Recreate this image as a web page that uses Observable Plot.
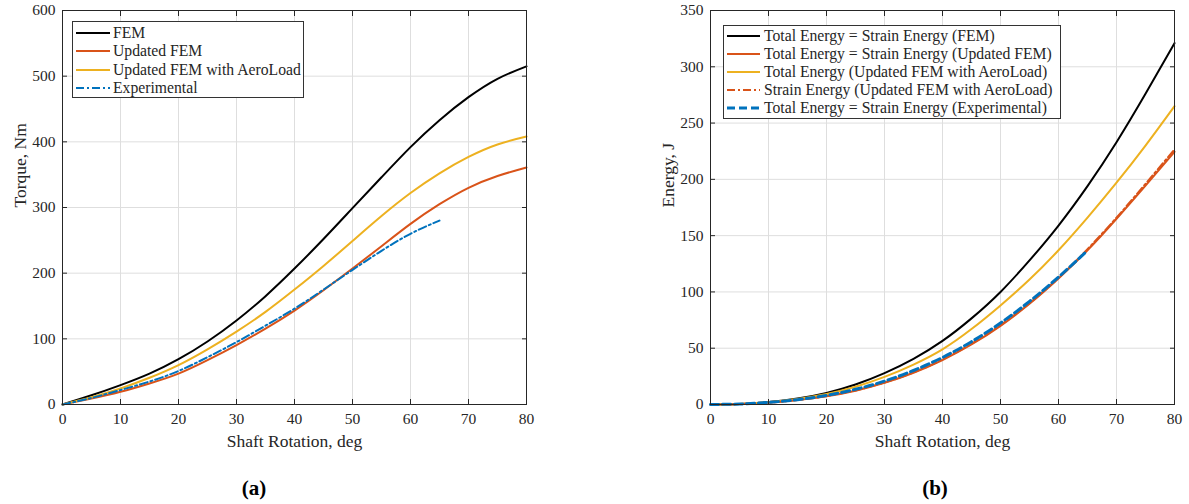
<!DOCTYPE html>
<html>
<head>
<meta charset="utf-8">
<script src="https://cdn.jsdelivr.net/npm/d3@7"></script>
<script src="https://cdn.jsdelivr.net/npm/@observablehq/plot@0.6"></script>
<style>
  html, body { margin: 0; padding: 0; background: white; }
  #wrap { position: relative; width: 1189px; height: 504px; font-family: "Liberation Serif", serif; color: #262626; }
  .panel { position: absolute; top: 0; }
  .legend { position: absolute; background: white; border: 1px solid #333; box-sizing: border-box; }
  .row { position: absolute; left: 0; white-space: nowrap; font-size: 15.7px; line-height: 18px; }
  .row svg { position: absolute; left: 3px; top: 0; }
  .row span { position: absolute; top: 0; }
  .cap { position: absolute; font-weight: bold; font-size: 21px; font-family: "Liberation Serif", serif; color: #000; transform: translate(-50%, -50%); }
</style>
</head>
<body>
<div id="wrap"></div>
<script>
// ---------- data ----------
const deg = [0, 5, 10, 15, 20, 25, 30, 35, 40, 45, 50, 55, 60, 65, 70, 75, 80];
const degExp = [0, 5, 10, 15, 20, 25, 30, 35, 40, 45, 50, 55, 60, 65];

// (a) torque, Nm
const torqueFEM     = [0, 14, 29.5, 47, 69, 96, 128, 165, 207, 252, 299, 346, 392, 433, 468, 496, 515];
const torqueUpdated = [0, 9, 19.3, 32, 47, 67.5, 90.5, 115.5, 143, 174, 207, 241, 275, 305, 330, 348, 361];
const torqueAero    = [0, 11, 24.4, 40.7, 60, 84, 111, 141, 175, 211, 249, 287, 322, 352, 377, 396, 408];
const torqueExp     = [0, 10, 22, 35, 51, 72, 95, 120, 146, 175, 205, 234, 260, 280];

// (b) energy, J
const energyFEM        = [0, 0.5, 2.2, 5.3, 10.3, 17.8, 27.9, 40.6, 56.5, 76.5, 100, 128, 159, 194, 233, 276, 321];
const energyUpdated    = [0, 0.4, 1.6, 3.9, 7.3, 12.3, 19.2, 28.2, 39.5, 53.3, 69.9, 89.5, 112, 137, 165, 194.5, 224.5];
const energyAeroTotal  = [0, 0.5, 2, 4.9, 9.3, 15.8, 24.5, 35.5, 49, 67, 88, 111, 137, 166, 197, 230, 265];
const energyAeroStrain = [0, 0.4, 1.7, 4, 7.5, 12.5, 19.5, 28.5, 40, 54, 70.5, 90, 112.5, 138, 166, 196, 226.5];
const energyExp        = [0, 0.44, 1.84, 4.3, 8.1, 13.5, 20.8, 30.2, 41.8, 55.8, 72.4, 91.6, 113.2, 136.8];

const seriesA = [
  {name: "FEM", x: deg, y: torqueFEM, color: "#000000", dash: null, width: 2},
  {name: "Updated FEM", x: deg, y: torqueUpdated, color: "#D95319", dash: null, width: 2},
  {name: "Updated FEM with AeroLoad", x: deg, y: torqueAero, color: "#EDB120", dash: null, width: 2},
  {name: "Experimental", x: degExp, y: torqueExp, color: "#0072BD", dash: "8,3,2,3", width: 2}
];
const seriesB = [
  {name: "Total Energy = Strain Energy (FEM)", x: deg, y: energyFEM, color: "#000000", dash: null, width: 2},
  {name: "Total Energy = Strain Energy (Updated FEM)", x: deg, y: energyUpdated, color: "#D95319", dash: null, width: 2},
  {name: "Total Energy (Updated FEM with AeroLoad)", x: deg, y: energyAeroTotal, color: "#EDB120", dash: null, width: 2},
  {name: "Strain Energy (Updated FEM with AeroLoad)", x: deg, y: energyAeroStrain, color: "#D95319", dash: "8,3,2,3", width: 2},
  {name: "Total Energy = Strain Energy (Experimental)", x: degExp, y: energyExp, color: "#0072BD", dash: "8,4", width: 3}
];

const xTicks = [0, 10, 20, 30, 40, 50, 60, 70, 80];
const yTicksA = [0, 100, 200, 300, 400, 500, 600];
const yTicksB = [0, 50, 100, 150, 200, 250, 300, 350];

function rowsOf(s) { return s.x.map((d, i) => ({deg: d, v: s.y[i]})); }

function makePlot(series, yDomain, yTicks, yLabel, opts) {
  const lineMarks = series.map(s => Plot.line(rowsOf(s), {
    x: "deg", y: "v", stroke: s.color, strokeWidth: s.width,
    strokeDasharray: s.dash || undefined, curve: "natural"
  }));
  return Plot.plot({
    width: opts.width, height: 460,
    marginLeft: opts.ml, marginRight: opts.mr, marginTop: 10, marginBottom: 56,
    style: {fontFamily: "Liberation Serif", fontSize: "15.5px", color: "#262626", background: "white", overflow: "visible"},
    x: {domain: [0, 80]},
    y: {domain: yDomain},
    marks: [
      Plot.gridX(xTicks, {stroke: "#dedede", strokeOpacity: 1}),
      Plot.gridY(yTicks, {stroke: "#dedede", strokeOpacity: 1}),
      ...lineMarks,
      Plot.frame({stroke: "#262626", strokeWidth: 1}),
      Plot.axisX(xTicks, {anchor: "bottom", tickSize: -5, text: null, label: null, stroke: "#262626"}),
      Plot.axisX(xTicks, {anchor: "top", tickSize: -5, text: null, label: null, stroke: "#262626"}),
      Plot.axisY(yTicks, {anchor: "left", tickSize: -5, text: null, label: null, stroke: "#262626"}),
      Plot.axisY(yTicks, {anchor: "right", tickSize: -5, text: null, label: null, stroke: "#262626"}),
      Plot.axisX(xTicks, {anchor: "bottom", tickSize: 0, tickPadding: 8, label: null, fill: "#262626"}),
      Plot.axisY(yTicks, {anchor: "left", tickSize: 0, tickPadding: 7, label: null, fill: "#262626"}),
      Plot.text(["Shaft Rotation, deg"], {frameAnchor: "bottom", lineAnchor: "middle", dy: 37, fontSize: 17.5, fill: "#262626"}),
      Plot.text([yLabel], {frameAnchor: "left", dx: -42, rotate: -90, fontSize: 17.5, fill: "#262626"})
    ]
  });
}

const wrap = document.getElementById("wrap");

function addPanel(node, left) {
  const d = document.createElement("div");
  d.className = "panel";
  d.style.left = left + "px";
  d.appendChild(node);
  wrap.appendChild(d);
}

addPanel(makePlot(seriesA, [0, 600], yTicksA, "Torque, Nm", {width: 594, ml: 62, mr: 68}), 0);
addPanel(makePlot(seriesB, [0, 350], yTicksB, "Energy, J", {width: 595, ml: 116, mr: 15}), 594);

function addLegend(series, box, rowH, lineLen, textX) {
  const lg = document.createElement("div");
  lg.className = "legend";
  lg.style.left = box.left + "px";
  lg.style.top = box.top + "px";
  lg.style.width = box.width + "px";
  lg.style.height = box.height + "px";
  series.forEach((s, i) => {
    const r = document.createElement("div");
    r.className = "row";
    r.style.top = (box.pad + i * rowH) + "px";
    const dash = s.dash ? `stroke-dasharray="${s.dash}"` : "";
    r.innerHTML = `<svg width="${lineLen + 2}" height="18"><line x1="0" y1="9" x2="${lineLen}" y2="9" stroke="${s.color}" stroke-width="${s.width}" ${dash}/></svg><span style="left:${textX}px">${s.name}</span>`;
    lg.appendChild(r);
  });
  wrap.appendChild(lg);
}

addLegend(seriesA, {left: 72, top: 21, width: 232, height: 77, pad: 2}, 18.4, 34, 40);
addLegend(seriesB, {left: 723, top: 25, width: 338, height: 94, pad: 1}, 18.1, 33, 40);

function addCap(t, x, y) {
  const c = document.createElement("div");
  c.className = "cap";
  c.style.left = x + "px";
  c.style.top = y + "px";
  c.textContent = t;
  wrap.appendChild(c);
}
addCap("(a)", 254, 488);
addCap("(b)", 935, 488);
</script>
</body>
</html>
